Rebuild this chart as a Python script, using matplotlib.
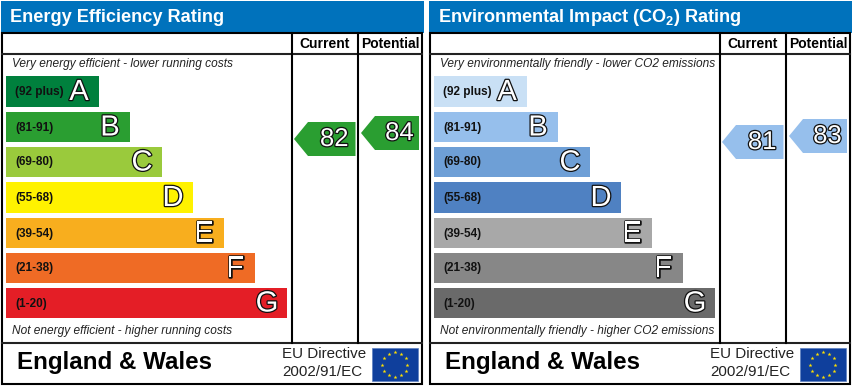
import numpy as np
import matplotlib
matplotlib.use('Agg')
import matplotlib.pyplot as plt
import matplotlib.patheffects as pe
from matplotlib.patches import Polygon, Rectangle

plt.rcParams['font.family'] = ['Liberation Sans', 'DejaVu Sans']
plt.rcParams['mathtext.fontset'] = 'custom'
plt.rcParams['mathtext.rm'] = 'Liberation Sans:bold'
plt.rcParams['mathtext.default'] = 'rm'

# ── DATA ─────────────────────────────────────────────────
bands = ['A', 'B', 'C', 'D', 'E', 'F', 'G']
ranges = ['(92 plus)', '(81-91)', '(69-80)', '(55-68)', '(39-54)', '(21-38)', '(1-20)']
bar_lengths = [93, 124, 156, 187, 218, 249, 281]
bar_tops = [76, 112, 147, 182, 218, 253, 288]
bar_heights = [31, 30, 30, 31, 30, 30, 30]

energy_colors = ['#00803d', '#2a9e31', '#9aca3c', '#fff200', '#f8ae1e', '#ef6b25', '#e41e26']
co2_colors = ['#c9e0f5', '#96bfec', '#6e9fd6', '#4f81c2', '#a8a8a8', '#878787', '#6a6a6a']

energy_scores = [82, 84]
co2_scores = [81, 83]

BLUE = '#0072bc'

fig = plt.figure(figsize=(8.53, 3.87), dpi=100)
ax = fig.add_axes([0, 0, 1, 1])
ax.set_xlim(0, 853)
ax.set_ylim(387, 0)
ax.axis('off')

outline = [pe.withStroke(linewidth=1.8, foreground='#111111')]


def white_outlined(x, y, s, size):
    ax.text(x, y, s, fontsize=size, color='white', ha='center', va='center',
            path_effects=outline, zorder=6)


def draw_arrow(x_left, x_right, score, color):
    # 3 px per rating point, 82 sits at y=139
    mid = 139 - 3 * (score - 82)
    pts = [(x_left, mid), (x_left + 14, mid - 17), (x_right, mid - 17),
           (x_right, mid + 17), (x_left + 14, mid + 17)]
    ax.add_patch(Polygon(pts, closed=True, fc=color, ec='none', zorder=4))
    white_outlined((x_left + x_right) / 2 + 9.5, mid, str(score), 18.5)


def draw_panel(x0, title, top_text, bottom_text, colors, scores):
    # x0 = left edge of the frame
    frame_w = 420
    col1 = x0 + 290
    col2 = x0 + 356

    ax.add_patch(Rectangle((x0 - 1, 1), frame_w + 3, 31.5, fc=BLUE, ec='none', zorder=1))
    ax.add_patch(Rectangle((x0, 32.5), frame_w, 351, fc='white', ec='black', lw=1.5, zorder=2))
    ax.plot([x0, x0 + frame_w], [54, 54], color='#222222', lw=1.5, zorder=3)
    ax.plot([x0, x0 + frame_w], [343, 343], color='#222222', lw=1.5, zorder=3)
    ax.plot([col1, col1], [32.5, 343], color='black', lw=1.5, zorder=3)
    ax.plot([col2, col2], [32.5, 343], color='black', lw=1.5, zorder=3)

    ax.text(x0 + 8.5, 22, title, color='white', fontsize=13.1, fontweight='bold',
            va='baseline', zorder=5)
    ax.text((col1 + col2) / 2, 43.5, 'Current', fontsize=10, fontweight='bold',
            ha='center', va='center', zorder=5)
    ax.text((col2 + x0 + frame_w) / 2, 43.5, 'Potential', fontsize=10, fontweight='bold',
            ha='center', va='center', zorder=5)

    ax.text(x0 + 10.5, 64, top_text, fontsize=8.6, style='italic', color='#222222',
            va='center', zorder=5)
    ax.text(x0 + 10.5, 331, bottom_text, fontsize=8.6, style='italic', color='#222222',
            va='center', zorder=5)

    ax.barh(bar_tops, bar_lengths, height=bar_heights, left=x0 + 4, align='edge',
            color=colors, zorder=4)
    for i, band in enumerate(bands):
        mid = bar_tops[i] + bar_heights[i] / 2
        ax.text(x0 + 13, mid + 0.5, ranges[i], fontsize=8.5, fontweight='bold',
                color='#111111', va='center', zorder=5)
        white_outlined(x0 + 4 + bar_lengths[i] - 20, mid + 0.5, band, 21)

    draw_arrow(col1 + 2, col2 - 2.5, scores[0], colors[1])
    draw_arrow(col2 + 3, x0 + frame_w - 3, scores[1], colors[1])

    # footer
    ax.text(x0 + 15, 363, 'England & Wales', fontsize=17.4, fontweight='bold',
            va='center', zorder=5)
    ax.text(x0 + 280.5, 353.5, 'EU Directive', fontsize=10.9, color='#222222', va='center', zorder=5)
    ax.text(x0 + 280.5, 372, '2002/91/EC', fontsize=10.9, color='#222222', va='center', zorder=5)

    # EU flag
    fx, fy, fw, fh = x0 + 370, 348, 46, 33
    ax.add_patch(Rectangle((fx, fy), fw, fh, fc='#0f3f9c', ec='#5b7fc0', lw=0.5, zorder=5))
    angles = np.deg2rad(np.arange(0, 360, 30))
    ax.scatter(fx + fw / 2 + 12.5 * np.cos(angles), fy + fh / 2 + 12.5 * np.sin(angles),
               marker='*', s=9, color='#ffe000', linewidths=0, zorder=6)


draw_panel(2, 'Energy Efficiency Rating',
           'Very energy efficient - lower running costs',
           'Not energy efficient - higher running costs',
           energy_colors, energy_scores)
draw_panel(430, 'Environmental Impact (CO$_2$) Rating',
           'Very environmentally friendly - lower CO2 emissions',
           'Not environmentally friendly - higher CO2 emissions',
           co2_colors, co2_scores)

plt.savefig('out.png', dpi=100)
